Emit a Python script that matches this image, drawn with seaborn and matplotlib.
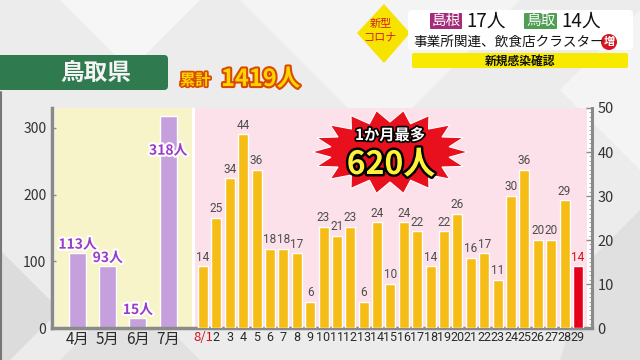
import numpy as np
import pandas as pd
import matplotlib
matplotlib.use("Agg")
import matplotlib.pyplot as plt
import seaborn as sns
import matplotlib.patheffects as pe
from matplotlib.patches import Polygon, FancyBboxPatch, Circle
from matplotlib.ticker import MultipleLocator

# ---------------- data ----------------
months = ["4月", "5月", "6月", "7月"]
month_cases = [113, 93, 15, 318]
days = ["8/1", "2", "3", "4", "5", "6", "7", "8", "9", "10", "11", "12", "13", "14", "15",
        "16", "17", "18", "19", "20", "21", "22", "23", "24", "25", "26", "27", "28", "29"]
day_cases = [14, 25, 34, 44, 36, 18, 18, 17, 6, 23, 21, 23, 6, 24, 10,
             24, 22, 14, 22, 26, 16, 17, 11, 30, 36, 20, 20, 29, 14]
left_ticks = [0, 100, 200, 300]
right_ticks = [0, 10, 20, 30, 40, 50]

# ---------------- layout ----------------
sns.set_theme(style="white")
plt.rcParams['font.family'] = ['Noto Sans CJK JP', 'DejaVu Sans']

fig = plt.figure(figsize=(6.4, 3.6), dpi=100)
fig.patch.set_facecolor('#ececec')

bg = fig.add_axes([0, 0, 1, 1], zorder=0)
bg.set_xlim(0, 640); bg.set_ylim(360, 0); bg.axis('off')
for pts, col in [
    ([(60, 0), (200, 0), (130, 70)], '#f6f6f6'),
    ([(240, 0), (520, 0), (380, 140)], '#f4f4f4'),
    ([(0, 250), (60, 310), (0, 370)], '#dcdcdc'),
    ([(60, 360), (130, 290), (200, 360)], '#e2e2e2'),
    ([(560, 90), (640, 10), (640, 170)], '#f4f4f4'),
    ([(590, 260), (640, 210), (640, 360), (560, 360)], '#e0e0e0'),
]:
    bg.add_patch(Polygon(pts, closed=True, color=col, lw=0))
bg.plot([1, 1], [92, 360], color='#777777', lw=1.5)

ax = fig.add_axes([52 / 640, 1 - 328 / 360, (592 - 52) / 640, (328 - 108) / 360], zorder=1)
ax.set_facecolor('white')
ax2 = ax.twinx()
ax2.set_zorder(2)
ax2.patch.set_visible(False)

mpos = 77.5 + 30.2 * np.arange(len(months))
dpos = 203 + 13.39 * np.arange(len(days))

dfm = pd.DataFrame({'x': mpos, 'y': month_cases})
sns.barplot(data=dfm, x='x', y='y', ax=ax, native_scale=True, width=17 / 30.2,
            color='#c6a0dc', saturation=1, zorder=2)

dfd = pd.DataFrame({'x': dpos, 'y': day_cases, 'day': days})
pal = {d: ('#e60019' if i == len(days) - 1 else '#f7bd17') for i, d in enumerate(days)}
sns.barplot(data=dfd, x='x', y='y', hue='day', palette=pal, ax=ax2, native_scale=True,
            width=10 / 13.39, saturation=1, legend=False, zorder=2)

ax.axvspan(55, 192, color='#f6f4c8', zorder=0, lw=0)
ax.axvspan(195, 587, color='#fce1ea', zorder=0, lw=0)

ax.set_xlim(52, 592)
ax.set_ylim(0, 330)
ax2.set_ylim(0, 50)
for a in (ax, ax2):
    a.set_xlabel(''); a.set_ylabel('')

# spines
for s in ('top', 'right'):
    ax.spines[s].set_visible(False)
for s in ('top', 'left', 'bottom'):
    ax2.spines[s].set_visible(False)
for s in ('left', 'bottom'):
    ax.spines[s].set_color('#8a8a8a'); ax.spines[s].set_linewidth(2.5)
ax2.spines['right'].set_color('#8a8a8a'); ax2.spines['right'].set_linewidth(2.2)

# y ticks
ax.set_yticks(left_ticks)
ax.set_yticklabels([str(t) for t in left_ticks])
ax.tick_params(axis='y', left=True, direction='in', length=3, width=1, color='#8a8a8a',
               labelsize=10, labelcolor='#333333', pad=4)
ax2.set_yticks(right_ticks)
ax2.set_yticklabels([str(t) for t in right_ticks])
ax2.yaxis.set_minor_locator(MultipleLocator(1))
ax2.tick_params(axis='y', which='major', right=True, left=False, direction='in', length=4,
                width=1, color='#8a8a8a', labelsize=10.5, labelcolor='#333333', pad=4)
ax2.tick_params(axis='y', which='minor', right=True, left=False, direction='in', length=2,
                width=0.6, color='#9a9a9a')

# x ticks
ax.set_xticks(list(mpos) + list(dpos))
ax.set_xticklabels(months + days)
ax.tick_params(axis='x', bottom=False, length=0, pad=2, labelcolor='#2a2a2a')
for i, lab in enumerate(ax.get_xticklabels()):
    if i < len(months):
        lab.set_fontsize(11)
    else:
        lab.set_fontsize(9)
        lab.set_family(['Roboto', 'DejaVu Sans'])
        if i == len(months):
            lab.set_color('#d0101a')
            lab.set_family(['Noto Sans CJK JP', 'DejaVu Sans'])
            lab.set_fontsize(9.5)

# value labels
for x, v in zip(mpos, month_cases):
    ax.text(x, min(v + 12, 266), f"{v}人", ha='center', va='center', fontsize=10,
            fontweight='bold', color='#9a3cc8', zorder=4,
            path_effects=[pe.withStroke(linewidth=3, foreground='white')])
for i, (x, v) in enumerate(zip(dpos, day_cases)):
    c = '#d0101a' if i == len(days) - 1 else '#4d4d4d'
    ax2.text(x, v + 0.6, str(v), ha='center', va='bottom', fontsize=8.5, color=c,
             family=['Roboto', 'DejaVu Sans'], zorder=4)

# ---------------- overlay decorations ----------------
ov = fig.add_axes([0, 0, 1, 1], zorder=5)
ov.set_xlim(0, 640); ov.set_ylim(360, 0); ov.axis('off'); ov.patch.set_visible(False)

# starburst
cx, cy = 390, 152
n = 18
ang = np.linspace(0, 2 * np.pi, 2 * n, endpoint=False)
rx = np.where(np.arange(2 * n) % 2 == 0, 78, 60)
ry = np.where(np.arange(2 * n) % 2 == 0, 42, 30)
pts = np.c_[cx + rx * np.cos(ang), cy + ry * np.sin(ang)]
ov.add_patch(Polygon(pts, closed=True, facecolor='#e8101c', edgecolor='#ffffff', lw=0.8))
ov.text(cx, 135, "1か月最多", ha='center', va='center', fontsize=11, fontweight='bold',
        color='white', path_effects=[pe.withStroke(linewidth=2.5, foreground='black')])
ov.text(cx + 1, 165, "620人", ha='center', va='center', fontsize=23, fontweight='bold',
        color='#fff23a', path_effects=[pe.withStroke(linewidth=3.5, foreground='black')])

# prefecture tag
ov.add_patch(FancyBboxPatch((-10, 55), 178, 35, boxstyle="round,pad=0,rounding_size=4",
                            facecolor='#2f7a4f', edgecolor='none'))
ov.text(96, 72.5, "鳥取県", ha='center', va='center', fontsize=17, color='#f4f4f4', fontweight='bold')
ov.text(180, 80, "累計", ha='left', va='center', fontsize=11, fontweight='bold', color='#ffd200',
        path_effects=[pe.withStroke(linewidth=2.5, foreground='#d84a00')])
ov.text(221, 79, "1419人", ha='left', va='center', fontsize=17, fontweight='bold', color='#ffd200',
        path_effects=[pe.withStroke(linewidth=3, foreground='#d84a00')])

# top-right headline box
ov.add_patch(Polygon([(384, 4), (410, 33), (384, 63), (357, 33)], closed=True,
                     facecolor='#f7e300', edgecolor='none'))
ov.text(381, 24, "新型", ha='center', va='center', fontsize=8, color='#d42020')
ov.text(380, 38, "コロナ", ha='center', va='center', fontsize=8, color='#d42020')
ov.add_patch(FancyBboxPatch((408, 10), 225, 40, boxstyle="round,pad=0,rounding_size=4",
                            facecolor='white', edgecolor='none'))
ov.add_patch(FancyBboxPatch((412, 53), 216, 15, boxstyle="round,pad=0,rounding_size=2",
                            facecolor='#f7ea00', edgecolor='none'))
ov.text(520, 61, "新規感染確認", ha='center', va='center', fontsize=8.5, fontweight='bold', color='#111111')
ov.add_patch(FancyBboxPatch((430, 13), 32, 16, boxstyle="round,pad=0,rounding_size=1",
                            facecolor='#a52c7a', edgecolor='none'))
ov.text(446, 21, "島根", ha='center', va='center', fontsize=10.5, color='white')
ov.text(466, 21, "17人", ha='left', va='center', fontsize=13.5, color='#111111')
ov.add_patch(FancyBboxPatch((524, 13), 33, 16, boxstyle="round,pad=0,rounding_size=1",
                            facecolor='#4f9e52', edgecolor='none'))
ov.text(540.5, 21, "鳥取", ha='center', va='center', fontsize=10.5, color='white')
ov.text(561, 21, "14人", ha='left', va='center', fontsize=13.5, color='#111111')
ov.text(413, 42, "事業所関連、飲食店クラスター", ha='left', va='center', fontsize=9.8, color='#111111')
ov.add_patch(Circle((609, 42), 8, facecolor='#d8141e', edgecolor='none'))
ov.text(609, 42, "増", ha='center', va='center', fontsize=8, fontweight='bold', color='white')

fig.savefig("out.png", dpi=100, facecolor=fig.get_facecolor())
